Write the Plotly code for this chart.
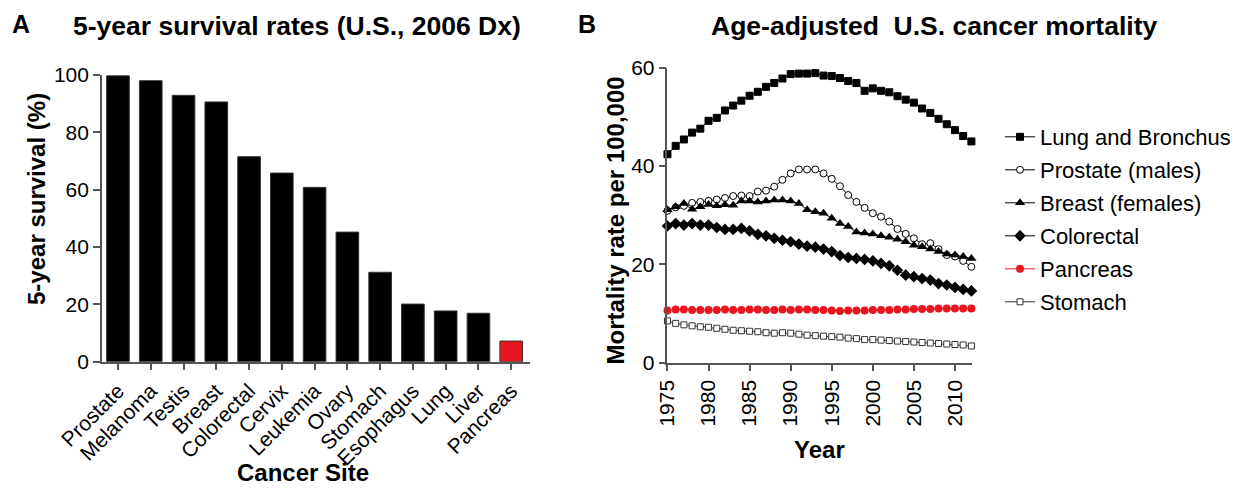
import plotly.graph_objects as go

# page is 1244x496 with an 8px body margin around the figure
W, H = 1228, 480
OFF = 8

# ---------------- Panel A data ----------------
sites = ["Prostate", "Melanoma", "Testis", "Breast", "Colorectal", "Cervix", "Leukemia",
         "Ovary", "Stomach", "Esophagus", "Lung", "Liver", "Pancreas"]
survival = [99.7, 98.0, 92.9, 90.6, 71.5, 65.8, 60.8, 45.2, 31.2, 20.1, 17.7, 16.9, 7.2]

# ---------------- Panel B data ----------------
years = list(range(1975, 2013))
lung = [42.4, 44.1, 45.4, 46.8, 47.6, 49.2, 49.8, 51.3, 52.3, 53.3, 54.3, 55.1, 56.1, 56.9,
        57.8, 58.7, 58.8, 58.8, 58.9, 58.4, 58.3, 57.9, 57.3, 56.9, 55.3, 55.8, 55.3, 55.0,
        54.2, 53.5, 52.9, 51.7, 50.8, 49.6, 48.5, 47.3, 46.1, 45.0]
prostate = [30.9, 31.6, 31.9, 32.5, 32.7, 32.9, 33.2, 33.5, 33.9, 34.0, 33.9, 34.8, 35.0,
            35.8, 37.2, 38.5, 39.3, 39.3, 39.3, 38.5, 37.4, 35.9, 34.1, 32.7, 31.5, 30.4,
            29.7, 28.7, 27.2, 26.2, 25.3, 24.1, 24.3, 23.1, 21.9, 21.6, 20.7, 19.5]
breast = [31.1, 31.7, 32.4, 31.2, 31.7, 32.2, 31.9, 32.1, 32.0, 32.9, 32.9, 32.7, 32.9,
          33.1, 33.1, 32.9, 32.4, 31.1, 30.7, 30.4, 29.4, 28.3, 27.7, 26.6, 26.4, 26.2,
          25.8, 25.5, 25.1, 24.6, 23.9, 23.6, 23.1, 22.6, 22.1, 21.9, 21.6, 21.2]
colorectal = [27.8, 28.3, 28.0, 28.3, 28.0, 28.0, 27.5, 27.1, 27.1, 27.3, 26.8, 26.1, 25.8,
              25.3, 24.9, 24.6, 24.1, 23.7, 23.5, 23.1, 22.6, 21.8, 21.4, 21.2, 21.0, 20.7,
              20.2, 19.7, 18.8, 17.8, 17.5, 17.1, 16.8, 16.1, 15.8, 15.3, 14.9, 14.6]
pancreas = [10.6, 10.8, 10.8, 10.7, 10.7, 10.7, 10.7, 10.8, 10.7, 10.7, 10.8, 10.8, 10.7,
            10.7, 10.8, 10.7, 10.8, 10.8, 10.7, 10.7, 10.6, 10.5, 10.6, 10.6, 10.6, 10.7,
            10.7, 10.7, 10.8, 10.8, 10.9, 10.9, 10.9, 11.0, 11.0, 11.0, 11.0, 11.0]
stomach = [8.5, 8.0, 7.7, 7.5, 7.3, 7.2, 7.0, 6.8, 6.6, 6.5, 6.4, 6.3, 6.1, 6.0, 6.1, 6.0,
           5.8, 5.6, 5.5, 5.4, 5.3, 5.2, 5.0, 4.9, 4.7, 4.7, 4.6, 4.5, 4.4, 4.3, 4.2, 4.1,
           4.0, 3.9, 3.8, 3.7, 3.6, 3.4]
year_ticks = [1975, 1980, 1985, 1990, 1995, 2000, 2005, 2010]

FONT = "Liberation Sans, Arial, sans-serif"
AXC = "#555555"
RED = "#e8161e"


def fx(px):
    return (px - OFF) / W


def fy(py):
    return 1 - (py - OFF) / H


fig = go.Figure()

bar_colors = ["black"] * (len(sites) - 1) + [RED]
fig.add_trace(go.Bar(x=sites, y=survival, marker=dict(color=bar_colors,
                     line=dict(color="#333333", width=1)),
                     width=0.69, showlegend=False, xaxis="x", yaxis="y"))

series = [
    ("Lung and Bronchus", lung, dict(symbol="square", size=7, color="black",
                                      line=dict(color="black", width=1)), "black"),
    ("Prostate (males)", prostate, dict(symbol="circle", size=7, color="white",
                                         line=dict(color="black", width=1)), "black"),
    ("Breast (females)", breast, dict(symbol="triangle-up", size=9, color="black",
                                       line=dict(color="black", width=0)), "black"),
    ("Colorectal", colorectal, dict(symbol="diamond", size=9, color="black",
                                     line=dict(color="black", width=0)), "black"),
    ("Pancreas", pancreas, dict(symbol="circle", size=8, color=RED,
                                 line=dict(color=RED, width=0)), RED),
    ("Stomach", stomach, dict(symbol="square", size=6, color="white",
                               line=dict(color="#333333", width=1)), "#333333"),
]
for i, (name, vals, mk, lc) in enumerate(series):
    fig.add_trace(go.Scatter(x=years, y=vals, name=name, mode="lines+markers",
                             marker=mk, line=dict(color=lc, width=1),
                             cliponaxis=False, legendgroup=f"g{i}",
                             xaxis="x2", yaxis="y2"))

axis_common = dict(showline=True, linecolor=AXC, linewidth=1.5, ticks="outside",
                   tickcolor=AXC, tickwidth=1.5, ticklen=7, showgrid=False,
                   zeroline=False, automargin=False,
                   tickfont=dict(family=FONT, size=21, color="black"))

fig.update_layout(
    width=W, height=H,
    margin=dict(l=0, r=0, t=0, b=0),
    paper_bgcolor="white", plot_bgcolor="white",
    font=dict(family=FONT, color="black"),
    bargap=0.31,
    xaxis=dict(domain=[fx(102), fx(530)], range=[-0.49, 12.56], tickangle=-45,
               anchor="y", **axis_common),
    yaxis=dict(domain=[fy(361.7), fy(75)], range=[0, 100], tickvals=[0, 20, 40, 60, 80, 100],
               anchor="x", **axis_common),
    xaxis2=dict(domain=[fx(668), fx(973)], range=[1975, 2012.1], tickvals=year_ticks,
                tickangle=-90, anchor="y2", **axis_common),
    yaxis2=dict(domain=[fy(362.7), fy(67.7)], range=[0, 60], tickvals=[0, 20, 40, 60],
                anchor="x2", **axis_common),
    legend=dict(x=fx(1001), y=fy(116), xanchor="left", yanchor="top",
                font=dict(family=FONT, size=22, color="black"),
                tracegroupgap=1.4, traceorder="grouped", bgcolor="rgba(0,0,0,0)",
                itemwidth=30),
)

# panel letters pinned to the top edge so they are not clipped
for txt, px in [("<b>A</b>", 21), ("<b>B</b>", 587)]:
    fig.add_annotation(text=txt, x=fx(px), y=1, xref="paper", yref="paper",
                       xanchor="center", yanchor="top", showarrow=False,
                       font=dict(family=FONT, size=25, color="black"))

ann = [
    dict(text="<b>5-year survival rates (U.S., 2006 Dx)</b>", x=fx(297), y=fy(26), size=26.5),
    dict(text="<b>Age-adjusted  U.S. cancer mortality</b>", x=fx(935), y=fy(26), size=26.5),
    dict(text="<b>Year</b>", x=fx(820), y=fy(449), size=24),
]
for a in ann:
    fig.add_annotation(text=a["text"], x=a["x"], y=a["y"], xref="paper", yref="paper",
                       xanchor="center", yanchor="middle", showarrow=False,
                       font=dict(family=FONT, size=a["size"], color="black"))

fig.add_annotation(text="<b>Cancer Site</b>", x=fx(303), y=0, xref="paper", yref="paper",
                   xanchor="center", yanchor="bottom", showarrow=False,
                   font=dict(family=FONT, size=24, color="black"))

fig.add_annotation(text="<b>5-year survival (%)</b>", x=fx(36), y=fy(199), xref="paper",
                   yref="paper", textangle=-90, showarrow=False, xanchor="center",
                   yanchor="middle", font=dict(family=FONT, size=24, color="black"))
fig.add_annotation(text="<b>Mortality rate per 100,000</b>", x=fx(615), y=fy(221),
                   xref="paper", yref="paper", textangle=-90, showarrow=False,
                   xanchor="center", yanchor="middle",
                   font=dict(family=FONT, size=24, color="black"))

fig.write_html("out.html")
